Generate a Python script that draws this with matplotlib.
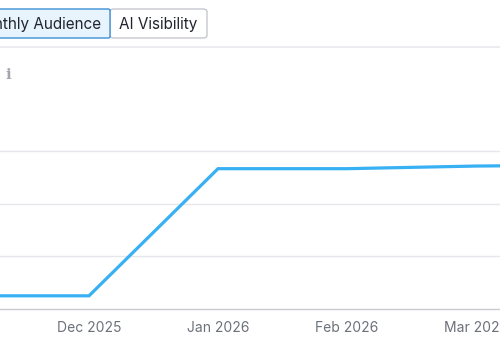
import matplotlib
matplotlib.use("Agg")
import matplotlib.pyplot as plt
from matplotlib.patches import FancyBboxPatch
from matplotlib.lines import Line2D

plt.rcParams["font.family"] = ["Inter", "DejaVu Sans"]

# data (values in grid units)
months = ["Nov 2025", "Dec 2025", "Jan 2026", "Feb 2026", "Mar 2026", "Apr 2026"]
audience = [0.25, 0.25, 2.66, 2.66, 2.71, 2.73]
tick_labels = ["Dec 2025", "Jan 2026", "Feb 2026", "Mar 2026"]
tabs = ["Monthly Audience", "AI Visibility"]

W, H = 500, 350
fig = plt.figure(figsize=(5, 3.5), dpi=100)

def fx(px):
    return px / W

def fy(py):
    return 1 - py / H

# plot area
ax = fig.add_axes([0, fy(309), 1, (309 - 98) / H])
x = list(range(len(months)))
ax.plot(x, audience, color="#38b0f4", lw=2.3, solid_joinstyle="miter", zorder=3)
ax.set_xlim((0 - 89) / 129 + 1, (500 - 89) / 129 + 1)
ax.set_ylim(0, 4)
ax.set_yticks([1, 2, 3])
ax.yaxis.grid(True, color="#e6e7ec", lw=1)
ax.set_xticks(x[1:5])
ax.set_xticklabels(tick_labels, color="#6c707b", fontsize=10)
ax.tick_params(axis="x", length=0, pad=9)
ax.tick_params(axis="y", length=0, labelleft=False)
for s in ["top", "left", "right"]:
    ax.spines[s].set_visible(False)
ax.spines["bottom"].set_color("#c9cbd3")
ax.spines["bottom"].set_linewidth(1)
ax.set_axisbelow(True)

# tabs
t1 = FancyBboxPatch((fx(-20), fy(38)), fx(130), (38 - 9) / H,
                    boxstyle="round,pad=0,rounding_size=0.004",
                    transform=fig.transFigure, fc="#e7f3fd", ec="#3d8fd4", lw=1, zorder=2)
t2 = FancyBboxPatch((fx(110), fy(38)), fx(97), (38 - 9) / H,
                    boxstyle="round,pad=0,rounding_size=0.008",
                    transform=fig.transFigure, fc="white", ec="#c5c7cf", lw=1, zorder=1)
fig.patches.extend([t2, t1])
fig.text(fx(101), fy(24.5), tabs[0], ha="right", va="center", fontsize=11, color="#22252d")
fig.text(fx(158), fy(24.5), tabs[1], ha="center", va="center", fontsize=11, color="#22252d")

# separator and info icon
fig.add_artist(Line2D([0, 1], [fy(46.5), fy(46.5)], transform=fig.transFigure,
                      color="#e8e9ee", lw=1.2))
fig.text(fx(8), fy(75), "i", ha="center", va="center", fontsize=11,
         color="#a3a6ae", fontweight="bold", family="DejaVu Serif")

fig.savefig("out.png", dpi=100)
